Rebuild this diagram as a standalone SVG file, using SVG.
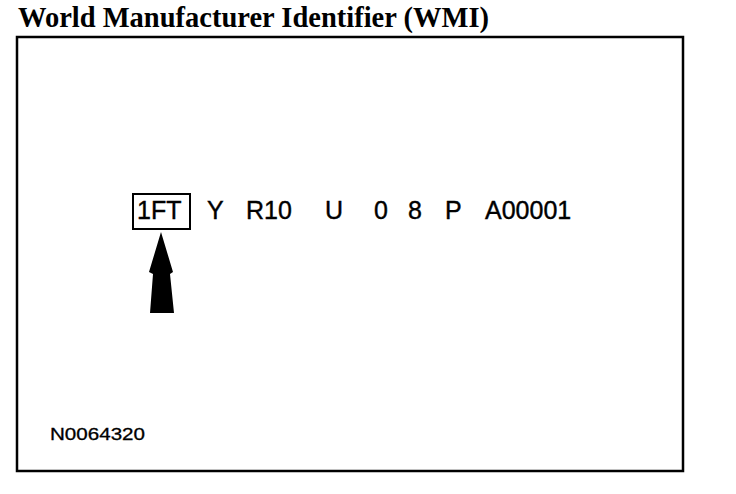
<svg xmlns="http://www.w3.org/2000/svg" width="736" height="494" viewBox="0 0 736 494">
<style>
.title{font-family:"Liberation Serif",serif;font-weight:bold;font-size:28.5px;fill:#000}
.code{font-family:"Liberation Sans",Arial,sans-serif;font-size:25px;fill:#000;stroke:#000;stroke-width:0.4}
.ref{font-family:"Liberation Sans",Arial,sans-serif;font-size:17px;fill:#000;stroke:#000;stroke-width:0.3}
</style>
<rect width="736" height="494" fill="#fff"/>
<text class="title" x="18" y="27">World Manufacturer Identifier (WMI)</text>
<rect x="17" y="37" width="666" height="434" fill="none" stroke="#000" stroke-width="2.5"/>
<g id="vin">
<rect x="133" y="194" width="57" height="35" fill="none" stroke="#000" stroke-width="2"/>
<text class="code" x="137" y="219">1FT</text>
<text class="code" x="207" y="219">Y</text>
<text class="code" x="246" y="219">R10</text>
<text class="code" x="325" y="219">U</text>
<text class="code" x="374" y="219">0</text>
<text class="code" x="408" y="219">8</text>
<text class="code" x="445" y="219">P</text>
<text class="code" x="485" y="219">A00001</text>
</g>
<g id="arrow">
<polygon points="161,232 173,272 170,274 174,313 150,313 153,274 149,272" fill="#000"/>
</g>
<text class="ref" x="50" y="440" textLength="95" lengthAdjust="spacingAndGlyphs">N0064320</text>
</svg>
